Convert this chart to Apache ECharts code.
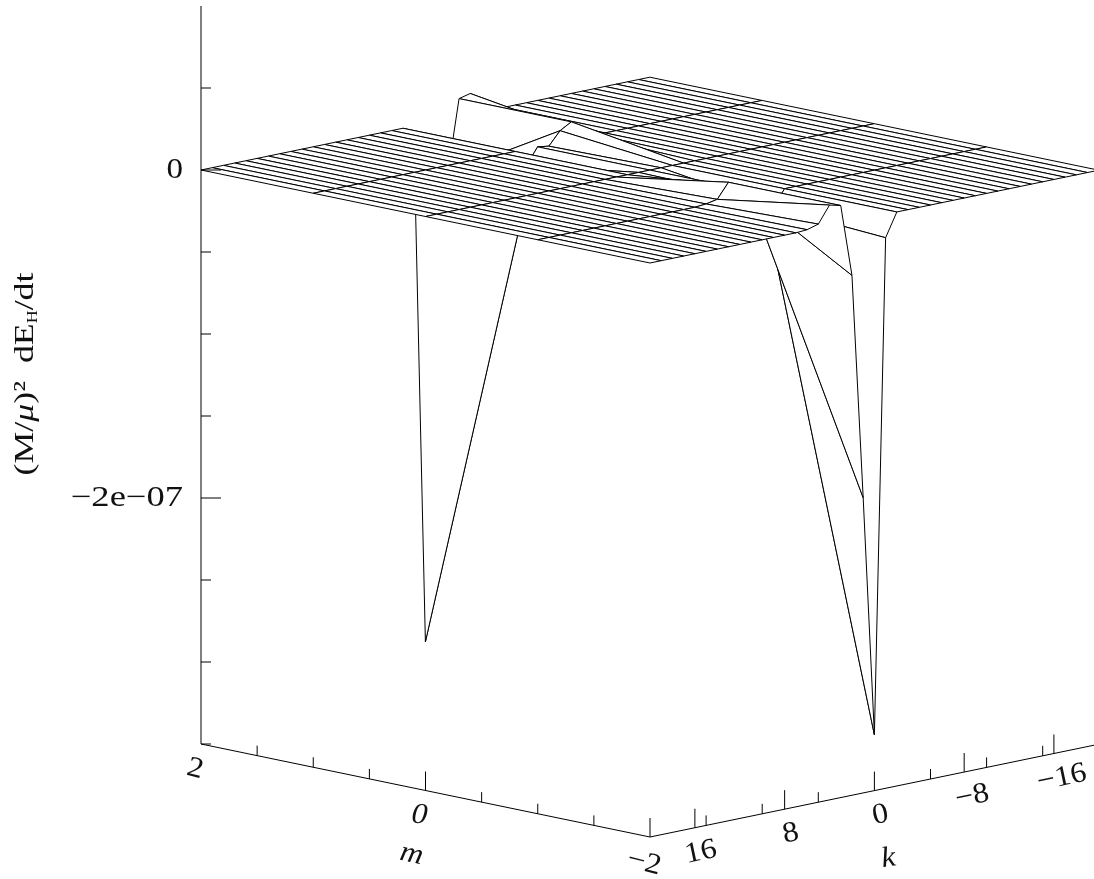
<!DOCTYPE html>
<html><head><meta charset="utf-8">
<style>html,body{margin:0;padding:0;background:#fff}#c{width:1094px;height:879px}</style>
<script src="https://cdn.jsdelivr.net/npm/echarts@6/dist/echarts.min.js"></script>
</head><body><div id="c"></div>
<script>
// Grid values: columns k = 20 ... -20 (step -1), rows by m; surface height in units of 1e-7
const kValues = [20,19,18,17,16,15,14,13,12,11,10,9,8,7,6,5,4,3,2,1,0,-1,-2,-3,-4,-5,-6,-7,-8,-9,-10,-11,-12,-13,-14,-15,-16,-17,-18,-19,-20];
const mValues = [2,1,0,-1,-2];
const zAtM2  = [0,0,0,0,0,0,0,0,0,0,0,0,0,0,0,0,0,0,0,-0.143,-3.16,-1.70,-0.33,0.11,0.127,0.025,0.005,0,0,0,0,0,0,0,0,0,0,0,0,0,0];
const zAtM1  = [0,0,0,0,0,0,0,0,0,0,0,0,0,0,0,0,0,0,0,-0.10,0,-0.01,0.07,0.11,0.02,0.006,0,0,0,0,0,0,0,0,0,0,0,0,0,0,0];
const zAtM0  = [0,0,0,0,0,0,0,0,0,0,0,0,0,0,0,0,0,0,0,0,0,0,0,0,0,0,0,0,0,0,0,0,0,0,0,0,0,0,0,0,0];
const zAtMn1 = [0,0,0,0,0,0,0,0,0,0,0,0,0,0,0,0.006,0.02,0.11,0.07,-0.01,0,-0.10,0,0,0,0,0,0,0,0,0,0,0,0,0,0,0,0,0,0,0];
const zAtMn2 = [0,0,0,0,0,0,0,0,0,0,0,0,0,0,0.005,0.025,0.127,0.11,-0.33,-1.70,-3.16,-0.143,0,0,0,0,0,0,0,0,0,0,0,0,0,0,0,0,0,0,0];
const zRows = [zAtM2, zAtM1, zAtM0, zAtMn1, zAtMn2];

const zAxisTicks = [0.5,0,-0.5,-1,-1.5,-2,-2.5,-3,-3.5];
const zAxisMajor = [0,-2];
const zAxisLabels = ['0','\u22122e\u221207'];
const mTicks = [1.5,1,0.5,0,-0.5,-1,-1.5,-2];
const mMajor = [0,-2];
const mLabels = ['2','0','\u22122'];
const mLabelValues = [2,0,-2];
const kTicks = [16,15,10,8,5,0,-5,-8,-10,-15,-16];
const kMajor = [16,8,0,-8,-16];
const kLabels = ['16','8','0','\u22128','\u221216'];
const kLabelValues = [16,8,0,-8,-16];

const FONT = '"Liberation Serif", serif';

// Oblique view: the base floor runs from z=-3.5 up to z=1
function project(k, m, z) {
  return [650 + (20 - k) * 11.22 - (m + 2) * 112.25,
          837 - (20 - k) * 2.32 - (m + 2) * 23.25 - (z + 3.5) * 164];
}

// Quads, back corner first so nearer cells cover farther ones
const cells = [];
for (let i = kValues.length - 2; i >= 0; i--) {
  for (let j = 0; j < mValues.length - 1; j++) cells.push([i, j]);
}

const segs = [];
const seg = (a, b) => segs.push([a[0],a[1],a[2],b[0],b[1],b[2]]);
seg([20,2,-3.5],[20,2,1]);
seg([20,2,-3.5],[20,-2,-3.5]);
seg([20,-2,-3.5],[-20,-2,-3.5]);
zAxisTicks.forEach(z => segs.push([20,2,z,20,2,z,zAxisMajor.includes(z)?20:10,0]));
mTicks.forEach(m => segs.push([20,m,-3.5,20,m,-3.5,0,mMajor.includes(m)?-19:-10]));
kTicks.forEach(k => segs.push([k,-2,-3.5,k,-2,-3.5,0,kMajor.includes(k)?-19:-10]));

const labels = [];
zAxisLabels.forEach((t,i) => labels.push({p:[20,2,zAxisMajor[i]],dx:-18,dy:0,text:t,align:'right',rot:0,size:29,sx:i===1?1.26:1.14}));
mLabels.forEach((t,i) => labels.push({p:[20,mLabelValues[i],-3.5],dx:-6,dy:i===2?26:25,text:t,rot:i===1?-4:-14,size:29,sx:1.1,italic:i===1}));
labels.push({p:[20,0,-3.5],dx:-14,dy:64,text:'m',rot:-12,size:29,sx:1.1,italic:true});
kLabels.forEach((t,i) => labels.push({p:[kLabelValues[i],-2,-3.5],dx:t.length>1&&t[0]==='\u2212'?8:6,dy:24.5,text:t,rot:12,size:29,sx:1.1}));
labels.push({p:[0,-2,-3.5],dx:14,dy:68,text:'k',rot:8,size:29,sx:1.1,italic:true});

const chart = echarts.init(document.getElementById('c'), null, {renderer:'canvas'});
chart.setOption({
  animation:false,
  backgroundColor:'#fff',
  grid:{left:0,right:0,top:0,bottom:0},
  xAxis:{type:'value',min:0,max:1094,show:false},
  yAxis:{type:'value',min:0,max:879,inverse:true,show:false},
  series:[
    {type:'custom',coordinateSystem:'cartesian2d',clip:false,silent:true,progressive:0,
     data:cells,encode:{x:[],y:[]},
     renderItem(params, api){
       const i = api.value(0), j = api.value(1);
       const corners = [[i,j],[i+1,j],[i+1,j+1],[i,j+1]];
       const pts = corners.map(c => api.coord(project(kValues[c[0]],mValues[c[1]],zRows[c[1]][c[0]])));
       return {type:'polygon',shape:{points:pts},style:{fill:'#fff',stroke:'#000',lineWidth:1,lineJoin:'round'}};
     }},
    {type:'custom',coordinateSystem:'cartesian2d',clip:false,silent:true,progressive:0,
     data:segs.map(s=>[s[0],s[1],s[2],s[3],s[4],s[5],s[6]||0,s[7]||0]),encode:{x:[],y:[]},
     renderItem(params, api){
       const a = api.coord(project(api.value(0),api.value(1),api.value(2)));
       const b = api.coord(project(api.value(3),api.value(4),api.value(5)));
       return {type:'line',shape:{x1:a[0],y1:a[1],x2:b[0]+api.value(6),y2:b[1]+api.value(7)},style:{stroke:'#000',lineWidth:1}};
     }},
    {type:'custom',coordinateSystem:'cartesian2d',clip:false,silent:true,progressive:0,
     data:labels.map((l,i)=>[i]),encode:{x:[],y:[]},
     renderItem(params, api){
       const l = labels[api.value(0)];
       const c = api.coord(project(l.p[0],l.p[1],l.p[2]));
       return {type:'text',x:c[0]+l.dx,y:c[1]+l.dy,rotation:l.rot*Math.PI/180,scaleX:l.sx,
         style:{text:l.text,fill:'#111',align:l.align||'center',verticalAlign:'middle',
                font:(l.italic?'italic ':'')+l.size+'px '+FONT}};
     }}
  ],
  graphic:[{type:'text',x:26,y:374,rotation:Math.PI/2,scaleX:1.28,silent:true,
    style:{text:'{a|(M/}{i|\u03bc}{a|)\u00b2  dE}{s|H}{a|/dt}',align:'center',verticalAlign:'middle',fill:'#111',
      rich:{a:{font:'28px '+FONT,fill:'#111'},i:{font:'italic 28px '+FONT,fill:'#111'},
            s:{font:'14px '+FONT,fill:'#111',verticalAlign:'bottom'}}}}]
});
</script></body></html>
